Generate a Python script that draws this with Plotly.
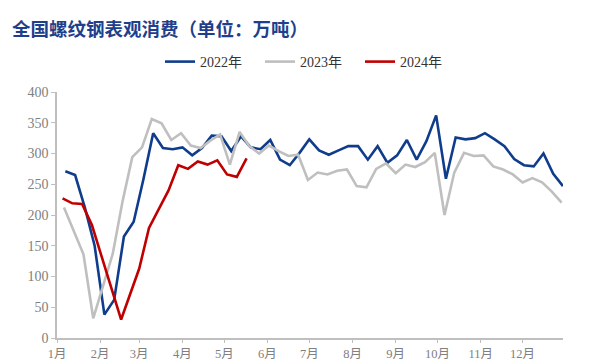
import plotly.graph_objects as go
import pandas as pd

# weekly values (万吨)
v2022 = [271, 265, 212, 150, 38, 62, 165, 189, 258, 333, 309, 307, 310, 297, 309, 329,
         328, 304, 328, 310, 307, 322, 290, 281, 301, 323, 305, 298, 305, 312, 312, 290,
         312, 285, 297, 322, 290, 320, 362, 259, 326, 323, 325, 333, 323, 312, 291, 281,
         279, 300, 267, 247]
v2023 = [212, 175, 136, 32, None, 137, 222, 294, 310, 356, 349, 322, 333, 313, 309, 321,
         331, 282, 335, 312, 300, 313, 304, 296, 298, 257, 269, 266, 272, 274, 247, 245,
         275, 284, 268, 282, 278, 286, 301, 200, 269, 301, 296, 297, 279, 274, 266, 253,
         260, 253, 238, 220]
v2024 = [227, 219, 218, 184, None, None, 30, 73, 113, 179, 210, 240, 281, 275, 287, 282,
         289, 266, 262, 292]

d2022 = pd.date_range("2022-01-07", periods=len(v2022), freq="7D")
d2023 = pd.date_range("2023-01-06", periods=len(v2023), freq="7D")
d2024 = pd.date_range("2024-01-05", periods=len(v2024), freq="7D")

def to_base(dates):
    return [d.replace(year=2022).strftime("%Y-%m-%d") for d in dates]

series = [
    ("2022年", to_base(d2022), v2022, "#0f3d8c"),
    ("2023年", to_base(d2023), v2023, "#bfbfbf"),
    ("2024年", to_base(d2024), v2024, "#c00000"),
]

fig = go.Figure()
for name, x, y, c in series:
    fig.add_trace(go.Scatter(x=x, y=y, name=name, mode="lines", connectgaps=True,
                             line=dict(color=c, width=2.6)))

W, H = 592, 352  # page body adds an 8px offset
ytickfont = dict(family="Liberation Serif, Noto Sans CJK SC", size=14, color="#808080")
xtickfont = dict(family="Liberation Serif, Noto Sans CJK SC", size=12.5, color="#808080")
fig.update_layout(
    width=W, height=H,
    margin=dict(l=49, r=37, t=84, b=22, autoexpand=False),
    paper_bgcolor="white", plot_bgcolor="white",
    title=dict(text="<b>全国螺纹钢表观消费（单位：万吨）</b>", x=4/W, xanchor="left",
               y=1-22/H, yanchor="middle", yref="container",
               font=dict(family="Noto Sans CJK SC", size=18.5, color="#1f3f8c")),
    legend=dict(orientation="h", x=0.5, xanchor="center", y=1+30/246, yanchor="middle",
                font=dict(family="Liberation Serif, Noto Sans CJK SC", size=14, color="#333333"),
                itemwidth=30, entrywidth=55, traceorder="normal"),
    xaxis=dict(type="date", range=["2022-01-01", "2022-12-30"], tick0="2022-01-01",
               dtick="M1", tickformat="%-m月", ticks="outside", ticklen=3,
               tickcolor="#bfbfbf", showline=True, linecolor="#bfbfbf", linewidth=1.5,
               showgrid=False, zeroline=False, tickfont=xtickfont, automargin=False),
    yaxis=dict(range=[0, 400], dtick=50, ticks="outside", ticklen=4, tickcolor="#bfbfbf",
               showline=True, linecolor="#bfbfbf", linewidth=1.5, showgrid=False,
               zeroline=False, tickfont=ytickfont, automargin=False),
)
fig.write_html("out.html")
